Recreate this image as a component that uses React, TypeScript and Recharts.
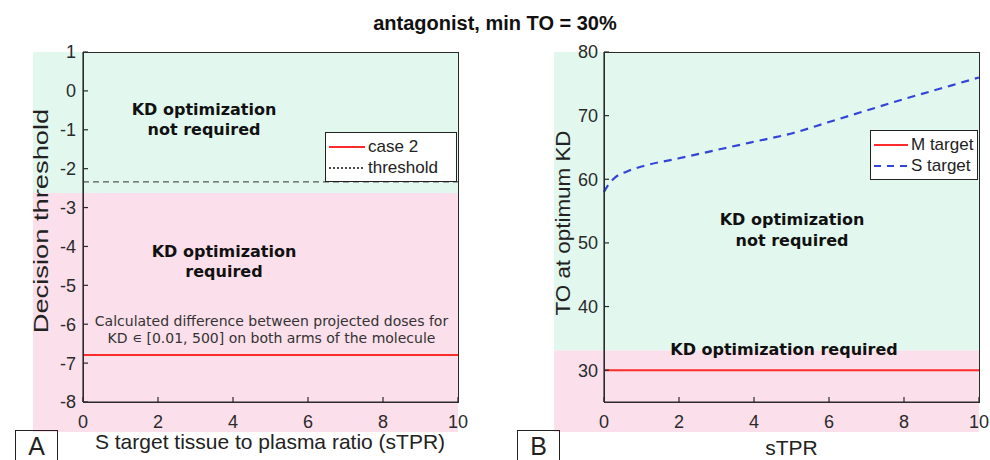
import React from 'react';
import { ComposedChart, Line, Area, XAxis, YAxis, Legend } from 'recharts';

// panel A
const sTPR_A = [0, 10];
const case2 = [-6.79, -6.79];
const thresholdA = -2.34;
const yRangeA = [-8, 1];
// panel B
const sTPR_B = [0, 0.1, 0.3, 0.6, 1, 2, 3, 4, 5, 6, 7, 8, 9, 10];
const sTarget = [58, 59, 60.3, 61.2, 62, 63.3, 64.6, 65.9, 67.2, 69, 70.8, 72.6, 74.3, 76];
const mTarget = sTPR_B.map(() => 30);
const thresholdB = 36.8;
const yRangeB = [25, 80];

const xTicks = [0, 2, 4, 6, 8, 10];
const yTicksA = [1, 0, -1, -2, -3, -4, -5, -6, -7, -8];
const yTicksB = [30, 40, 50, 60, 70, 80];

const GREEN = '#e2f8ef';
const PINK = '#fbdfea';
const AX = '#2a2a2a';
const FONT = '"Liberation Sans", Arial, sans-serif';
const BOLDFONT = '"DejaVu Sans", Verdana, sans-serif';

const dataA = sTPR_A.map((x, i) => ({
  x,
  case2: case2[i],
  threshold: thresholdA,
  green: [thresholdA, yRangeA[1]],
  pink: [yRangeA[0], thresholdA],
}));
const dataB = sTPR_B.map((x, i) => ({
  x,
  m: mTarget[i],
  s: sTarget[i],
  green: [thresholdB, yRangeB[1]],
  pink: [yRangeB[0], thresholdB],
}));

const legendStyles: Record<string, { color: string; dash?: string; width: number }> = {
  case2: { color: '#ff2a2a', width: 2 },
  threshold: { color: '#111', dash: '2 2', width: 1.5 },
  m: { color: '#ff2a2a', width: 2 },
  s: { color: '#3345d8', dash: '7 6', width: 2.2 },
};

function LegendBox({ payload, lineW, w }: any) {
  const items = (payload || []).filter((p: any) => legendStyles[p.dataKey]);
  return (
    <div style={{ border: '1.5px solid #222', background: '#fff', width: w, padding: '3px 0', fontFamily: FONT, fontSize: 17, color: '#222' }}>
      {items.map((p: any) => {
        const st = legendStyles[p.dataKey];
        return (
          <div key={p.dataKey} style={{ display: 'flex', alignItems: 'center', height: 21 }}>
            <svg width={lineW + 4} height={10} style={{ marginLeft: 2 }}>
              <line x1={1} y1={5} x2={lineW + 1} y2={5} stroke={st.color} strokeWidth={st.width} strokeDasharray={st.dash} />
            </svg>
            <span>{p.value}</span>
          </div>
        );
      })}
    </div>
  );
}

const tickStyle = { fontSize: 18, fill: AX, fontFamily: FONT };
const blank = () => '';
const axLine = { stroke: AX, strokeWidth: 1.2 };
const tkLine = { stroke: AX, strokeWidth: 1.2 };

const abs = (left: number, top: number, extra: React.CSSProperties = {}): React.CSSProperties => ({
  position: 'absolute', left, top, ...extra,
});

const boldNote: React.CSSProperties = {
  fontFamily: BOLDFONT, fontWeight: 'bold', fontSize: 16, color: '#111', textAlign: 'center', lineHeight: '20px', whiteSpace: 'nowrap',
};

// axes box over the plot area
const frame: React.CSSProperties = {
  width: 376, height: 351, border: `1.3px solid ${AX}`, boxSizing: 'border-box', pointerEvents: 'none',
};

const marginA = { top: 52, right: 22, bottom: 28, left: 33 };
const marginB = { top: 52, right: 11, bottom: 28, left: 64 };

// background bands, drawn in a chart underneath so the axes' inward ticks stay visible
function Bands({ data, margin, width, yDomain }: any) {
  return (
    <ComposedChart width={width} height={460} data={data} margin={margin}>
      <XAxis dataKey="x" type="number" domain={[0, 10]} height={30} hide />
      <YAxis type="number" domain={yDomain} width={50} hide />
      <Area dataKey="green" type="linear" stroke="none" fill={GREEN} fillOpacity={1} legendType="none" dot={false} activeDot={false} isAnimationActive={false} />
      <Area dataKey="pink" type="linear" stroke="none" fill={PINK} fillOpacity={1} legendType="none" dot={false} activeDot={false} isAnimationActive={false} />
    </ComposedChart>
  );
}

export default function App() {
  return (
    <div style={{ position: 'absolute', left: 0, top: 0, width: 990, height: 460, background: '#fff', overflow: 'hidden', fontFamily: FONT }}>
      <div style={abs(0, 12, { width: 990, textAlign: 'center', fontWeight: 'bold', fontSize: 20, color: '#111' })}>
        antagonist, min TO = 30%
      </div>

      {/* Panel A */}
      <div style={abs(0, 0)}>
        <Bands data={dataA} margin={marginA} width={480} yDomain={yRangeA} />
      </div>
      <div style={abs(0, 0)}>
        <ComposedChart width={480} height={460} data={dataA} margin={marginA}>
          <XAxis dataKey="x" type="number" domain={[0, 10]} ticks={xTicks} height={30} tickSize={-5} tickMargin={18}
            axisLine={axLine} tickLine={tkLine} tick={tickStyle} />
          <XAxis xAxisId="top" orientation="top" dataKey="x" type="number" domain={[0, 10]} ticks={xTicks} height={0}
            tickSize={-5} tickFormatter={blank} axisLine={axLine} tickLine={tkLine} />
          <YAxis type="number" domain={yRangeA} ticks={yTicksA} width={50} tickSize={-5} tickMargin={12}
            axisLine={axLine} tickLine={tkLine} tick={tickStyle} interval={0} />
          <YAxis yAxisId="right" orientation="right" type="number" domain={yRangeA} ticks={yTicksA} width={0}
            tickSize={-5} tickFormatter={blank} axisLine={axLine} tickLine={tkLine} interval={0} />
          <Line dataKey="threshold" name="threshold" stroke="#555" strokeWidth={1.3} strokeDasharray="6 4" dot={false} isAnimationActive={false} />
          <Line dataKey="case2" name="case 2" stroke="#ff2a2a" strokeWidth={2} dot={false} isAnimationActive={false} />
          <Legend layout="vertical" align="center" verticalAlign="middle"
            wrapperStyle={{ left: 325, top: 132, width: 133 }}
            content={(props: any) => <LegendBox {...props} lineW={36} w={130} />} />
        </ComposedChart>
      </div>
      <div style={abs(82.5, 51.5, frame)} />

      <div style={abs(124, 100, { ...boldNote, width: 160 })}>KD optimization<br />not required</div>
      <div style={abs(144, 242, { ...boldNote, width: 160 })}>KD optimization<br />required</div>
      <div style={abs(83, 313, { width: 377, textAlign: 'center', fontFamily: BOLDFONT, fontSize: 14, color: '#333', lineHeight: '17px', whiteSpace: 'nowrap' })}>
        Calculated difference between projected doses for<br />KD ∊ [0.01, 500] on both arms of the molecule
      </div>

      <div style={abs(41, 221, { transform: 'translate(-50%, -50%) rotate(-90deg) scaleX(1.3)', fontSize: 21, lineHeight: '24px', color: '#222', whiteSpace: 'nowrap' })}>
        Decision threshold
      </div>
      <div style={abs(60, 431, { width: 420, textAlign: 'center', fontSize: 21, lineHeight: '22px', color: '#222', whiteSpace: 'nowrap' })}>
        S target tissue to plasma ratio (sTPR)
      </div>
      <div style={abs(15, 430, { width: 41, height: 40, border: '1px solid #222', fontSize: 25, lineHeight: '30px', textAlign: 'center', color: '#222' })}>A</div>

      {/* Panel B */}
      <div style={abs(490, 0)}>
        <Bands data={dataB} margin={marginB} width={500} yDomain={yRangeB} />
      </div>
      <div style={abs(490, 0)}>
        <ComposedChart width={500} height={460} data={dataB} margin={marginB}>
          <XAxis dataKey="x" type="number" domain={[0, 10]} ticks={xTicks} height={30} tickSize={-5} tickMargin={18}
            axisLine={axLine} tickLine={tkLine} tick={tickStyle} />
          <XAxis xAxisId="top" orientation="top" dataKey="x" type="number" domain={[0, 10]} ticks={xTicks} height={0}
            tickSize={-5} tickFormatter={blank} axisLine={axLine} tickLine={tkLine} />
          <YAxis type="number" domain={yRangeB} ticks={yTicksB} width={50} tickSize={-5} tickMargin={11}
            axisLine={axLine} tickLine={tkLine} tick={tickStyle} interval={0} />
          <YAxis yAxisId="right" orientation="right" type="number" domain={yRangeB} ticks={yTicksB} width={0}
            tickSize={-5} tickFormatter={blank} axisLine={axLine} tickLine={tkLine} interval={0} />
          <Line dataKey="m" name="M target" stroke="#ff2a2a" strokeWidth={2} dot={false} isAnimationActive={false} />
          <Line dataKey="s" name="S target" type="monotone" stroke="#3345d8" strokeWidth={2.2} strokeDasharray="8 6" dot={false} isAnimationActive={false} />
          <Legend layout="vertical" align="center" verticalAlign="middle"
            wrapperStyle={{ left: 380, top: 130, width: 108 }}
            content={(props: any) => <LegendBox {...props} lineW={34} w={106} />} />
        </ComposedChart>
      </div>
      <div style={abs(603.5, 51.5, frame)} />

      <div style={abs(712, 209, { ...boldNote, width: 160, lineHeight: '21px' })}>KD optimization<br />not required</div>
      <div style={abs(604, 340, { ...boldNote, width: 360 })}>KD optimization required</div>

      <div style={abs(563, 223, { transform: 'translate(-50%, -50%) rotate(-90deg) scaleX(1.12)', fontSize: 20, lineHeight: '22px', color: '#222', whiteSpace: 'nowrap' })}>
        TO at optimum KD
      </div>
      <div style={abs(604, 437, { width: 375, textAlign: 'center', fontSize: 21, lineHeight: '22px', color: '#222' })}>sTPR</div>
      <div style={abs(517, 430, { width: 41, height: 40, border: '1px solid #222', fontSize: 25, lineHeight: '30px', textAlign: 'center', color: '#222' })}>B</div>
    </div>
  );
}
